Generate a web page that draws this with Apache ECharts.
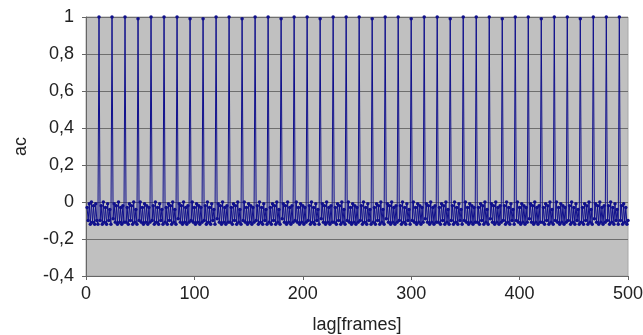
<!DOCTYPE html>
<html>
<head>
<meta charset="utf-8">
<script src="https://cdn.jsdelivr.net/npm/echarts@6/dist/echarts.min.js"></script>
<style>
  html, body { margin: 0; padding: 0; background: #fff; }
  #chart { width: 643px; height: 335px; }
</style>
</head>
<body>
<div id="chart"></div>
<script>
// autocorrelation values, lag 1..500 (12 values per row, peak every 12 frames)
const acLag1to120 = [
  -0.03,-0.10,-0.01,-0.12,0.00,-0.11,-0.02,-0.12,-0.01,-0.10,-0.12,1.00,
  -0.10,-0.02,-0.12,0.00,-0.11,-0.03,-0.12,-0.01,-0.10,-0.04,-0.12,1.00,
  -0.09,-0.01,-0.11,-0.02,-0.12,0.00,-0.11,-0.03,-0.12,-0.02,-0.11,1.00,
  -0.11,-0.03,-0.12,-0.01,-0.10,-0.02,-0.12,0.00,-0.11,-0.04,-0.12,0.99,
  -0.10,0.00,-0.11,-0.03,-0.12,-0.01,-0.11,-0.02,-0.12,-0.03,-0.11,1.00,
  -0.10,-0.02,-0.12,0.00,-0.11,-0.03,-0.12,-0.01,-0.10,-0.04,-0.12,1.00,
  -0.11,-0.03,-0.12,-0.01,-0.10,-0.02,-0.12,0.00,-0.11,-0.04,-0.12,1.00,
  -0.09,-0.01,-0.11,-0.02,-0.12,0.00,-0.11,-0.03,-0.12,-0.02,-0.11,0.99,
  -0.10,0.00,-0.11,-0.03,-0.12,-0.01,-0.11,-0.02,-0.12,-0.03,-0.11,0.99,
  -0.10,-0.02,-0.12,0.00,-0.11,-0.03,-0.12,-0.01,-0.10,-0.04,-0.12,1.00
];
const acLag121to240 = [
  -0.09,-0.01,-0.11,-0.02,-0.12,0.00,-0.11,-0.03,-0.12,-0.02,-0.11,1.00,
  -0.11,-0.03,-0.12,-0.01,-0.10,-0.02,-0.12,0.00,-0.11,-0.04,-0.12,0.99,
  -0.10,0.00,-0.11,-0.03,-0.12,-0.01,-0.11,-0.02,-0.12,-0.03,-0.11,1.00,
  -0.10,-0.02,-0.12,0.00,-0.11,-0.03,-0.12,-0.01,-0.10,-0.04,-0.12,1.00,
  -0.11,-0.03,-0.12,-0.01,-0.10,-0.02,-0.12,0.00,-0.11,-0.04,-0.12,0.99,
  -0.09,-0.01,-0.11,-0.02,-0.12,0.00,-0.11,-0.03,-0.12,-0.02,-0.11,1.00,
  -0.10,0.00,-0.11,-0.03,-0.12,-0.01,-0.11,-0.02,-0.12,-0.03,-0.11,1.00,
  -0.10,-0.02,-0.12,0.00,-0.11,-0.03,-0.12,-0.01,-0.10,-0.04,-0.12,0.99,
  -0.09,-0.01,-0.11,-0.02,-0.12,0.00,-0.11,-0.03,-0.12,-0.02,-0.11,1.00,
  -0.11,-0.03,-0.12,-0.01,-0.10,-0.02,-0.12,0.00,-0.11,-0.04,-0.12,1.00
];
const acLag241to360 = [
  -0.10,0.00,-0.11,-0.03,-0.12,-0.01,-0.11,-0.02,-0.12,-0.03,-0.11,1.00,
  -0.10,-0.02,-0.12,0.00,-0.11,-0.03,-0.12,-0.01,-0.10,-0.04,-0.12,0.99,
  -0.11,-0.03,-0.12,-0.01,-0.10,-0.02,-0.12,0.00,-0.11,-0.04,-0.12,1.00,
  -0.09,-0.01,-0.11,-0.02,-0.12,0.00,-0.11,-0.03,-0.12,-0.02,-0.11,1.00,
  -0.10,-0.02,-0.12,0.00,-0.11,-0.03,-0.12,-0.01,-0.10,-0.04,-0.12,0.99,
  -0.10,0.00,-0.11,-0.03,-0.12,-0.01,-0.11,-0.02,-0.12,-0.03,-0.11,1.00,
  -0.09,-0.01,-0.11,-0.02,-0.12,0.00,-0.11,-0.03,-0.12,-0.02,-0.11,1.00,
  -0.11,-0.03,-0.12,-0.01,-0.10,-0.02,-0.12,0.00,-0.11,-0.04,-0.12,0.99,
  -0.10,-0.02,-0.12,0.00,-0.11,-0.03,-0.12,-0.01,-0.10,-0.04,-0.12,1.00,
  -0.10,0.00,-0.11,-0.03,-0.12,-0.01,-0.11,-0.02,-0.12,-0.03,-0.11,1.00
];
const acLag361to480 = [
  -0.11,-0.03,-0.12,-0.01,-0.10,-0.02,-0.12,0.00,-0.11,-0.04,-0.12,1.00,
  -0.09,-0.01,-0.11,-0.02,-0.12,0.00,-0.11,-0.03,-0.12,-0.02,-0.11,0.99,
  -0.10,-0.02,-0.12,0.00,-0.11,-0.03,-0.12,-0.01,-0.10,-0.04,-0.12,1.00,
  -0.10,0.00,-0.11,-0.03,-0.12,-0.01,-0.11,-0.02,-0.12,-0.03,-0.11,1.00,
  -0.09,-0.01,-0.11,-0.02,-0.12,0.00,-0.11,-0.03,-0.12,-0.02,-0.11,0.99,
  -0.11,-0.03,-0.12,-0.01,-0.10,-0.02,-0.12,0.00,-0.11,-0.04,-0.12,1.00,
  -0.10,0.00,-0.11,-0.03,-0.12,-0.01,-0.11,-0.02,-0.12,-0.03,-0.11,1.00,
  -0.10,-0.02,-0.12,0.00,-0.11,-0.03,-0.12,-0.01,-0.10,-0.04,-0.12,0.99,
  -0.11,-0.03,-0.12,-0.01,-0.10,-0.02,-0.12,0.00,-0.11,-0.04,-0.12,1.00,
  -0.09,-0.01,-0.11,-0.02,-0.12,0.00,-0.11,-0.03,-0.12,-0.02,-0.11,1.00
];
const acLag481to500 = [
  -0.10,-0.02,-0.12,0.00,-0.11,-0.03,-0.12,-0.01,-0.10,-0.04,-0.12,1.00,
  -0.10,-0.02,-0.12,-0.01,-0.11,-0.03,-0.12,-0.10
];

const xTicks = [0, 100, 200, 300, 400, 500];
const yTicks = [-0.4, -0.2, 0, 0.2, 0.4, 0.6, 0.8, 1];

const acValues = [].concat(acLag1to120, acLag121to240, acLag241to360, acLag361to480, acLag481to500);
const seriesData = acValues.map((v, i) => [i + 1, v]);

const font = "'Liberation Sans', Arial, Helvetica, sans-serif";
const comma = v => String(Math.round(v * 10) / 10).replace('.', ',');

const chart = echarts.init(document.getElementById('chart'), null, { renderer: 'canvas' });
chart.setOption({
  animation: false,
  backgroundColor: '#ffffff',
  textStyle: { fontFamily: font },
  grid: {
    left: 86, right: 15, top: 17, bottom: 59,
    outerBoundsMode: 'none', containLabel: false,
    show: true, backgroundColor: '#c0c0c0', borderColor: '#a8a8a8', borderWidth: 1
  },
  xAxis: {
    type: 'value',
    min: xTicks[0], max: xTicks[xTicks.length - 1], interval: 100,
    name: 'lag[frames]', nameLocation: 'middle', nameGap: 40,
    nameTextStyle: { fontSize: 18, color: '#222', fontFamily: font },
    axisLine: { show: true, onZero: false, lineStyle: { color: '#666', width: 1 } },
    axisTick: { show: true, length: 4, lineStyle: { color: '#666' } },
    axisLabel: { fontSize: 18, color: '#222', margin: 9, fontFamily: font },
    splitLine: { show: false }
  },
  yAxis: {
    type: 'value',
    min: yTicks[0], max: yTicks[yTicks.length - 1], interval: 0.2,
    name: 'ac', nameLocation: 'middle', nameGap: 56, nameRotate: 90,
    nameTextStyle: { fontSize: 18, color: '#222', fontFamily: font },
    axisLine: { show: true, lineStyle: { color: '#666', width: 1 } },
    axisTick: { show: true, length: 4, lineStyle: { color: '#666' } },
    axisLabel: { fontSize: 18, color: '#222', margin: 12, fontFamily: font, formatter: comma },
    splitLine: { show: true, lineStyle: { color: '#6e6e6e', width: 1 } }
  },
  series: [{
    type: 'line',
    data: seriesData,
    showSymbol: true,
    symbol: 'circle',
    symbolSize: 3.5,
    lineStyle: { color: '#10108c', width: 1 },
    itemStyle: { color: '#10108c' }
  }]
});
</script>
</body>
</html>
